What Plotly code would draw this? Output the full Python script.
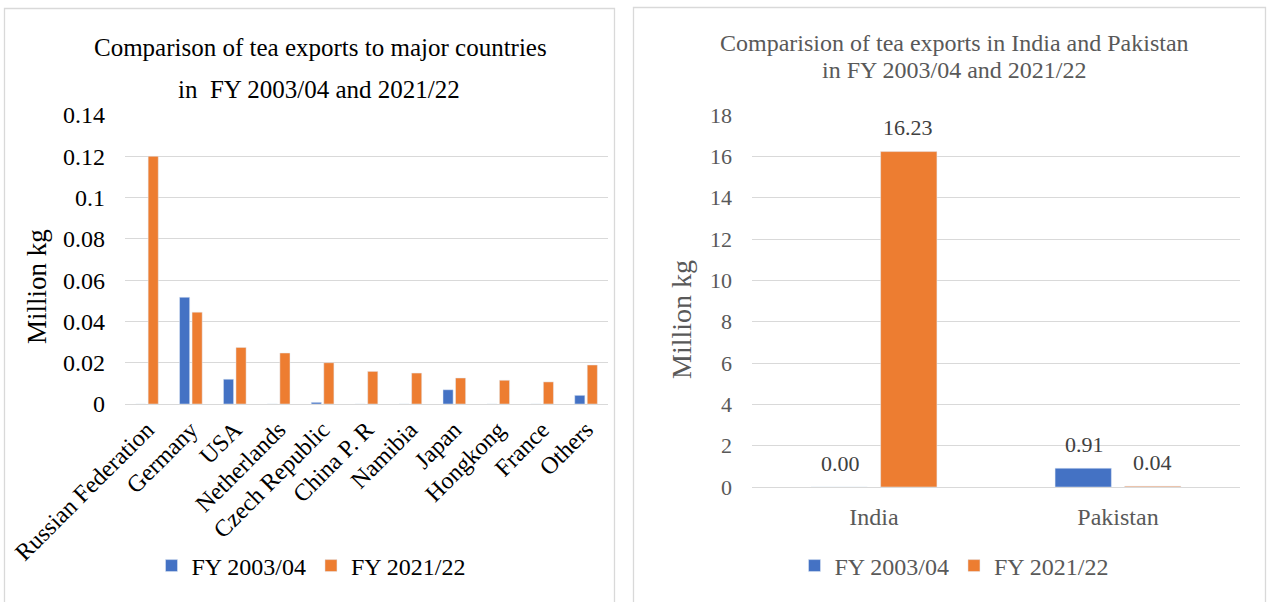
import plotly.graph_objects as go

# ---------- data ----------
countries = ["Russian Federation", "Germany", "USA", "Netherlands", "Czech Republic",
             "China P. R", "Namibia", "Japan", "Hongkong", "France", "Others"]
exports_2003 = [0, 0.0517, 0.012, 0, 0.0008, 0, 0, 0.0069, 0, 0, 0.0042]
exports_2021 = [0.120, 0.0445, 0.0274, 0.0247, 0.020, 0.0158, 0.015, 0.0126, 0.0115, 0.0107, 0.0189]
left_ticks = [0, 0.02, 0.04, 0.06, 0.08, 0.10, 0.12, 0.14]
left_ticktext = ["0", "0.02", "0.04", "0.06", "0.08", "0.1", "0.12", "0.14"]

neighbors = ["India", "Pakistan"]
nb_2003 = [0.00, 0.91]
nb_2021 = [16.23, 0.04]
right_ticks = [0, 2, 4, 6, 8, 10, 12, 14, 16, 18]

BLUE = "#4472C4"
ORANGE = "#ED7D31"
GRID = "#D9D9D9"
GREY = "#595959"
FONT = "Liberation Serif"
W, H = 1271, 602

fig = go.Figure()

fig.add_trace(go.Bar(x=countries, y=exports_2003, name="FY 2003/04", marker_color=BLUE,
                     xaxis="x", yaxis="y", legend="legend"))
fig.add_trace(go.Bar(x=countries, y=exports_2021, name="FY 2021/22", marker_color=ORANGE,
                     xaxis="x", yaxis="y", legend="legend"))

fig.add_trace(go.Bar(x=neighbors, y=nb_2003, name="FY 2003/04", marker_color=BLUE,
                     xaxis="x2", yaxis="y2", legend="legend2"))
fig.add_trace(go.Bar(x=neighbors, y=nb_2021, name="FY 2021/22", marker_color=ORANGE,
                     xaxis="x2", yaxis="y2", legend="legend2"))

def px(x):
    return x / W

def py(y):
    return 1 - y / H

fig.update_layout(
    width=W, height=H,
    margin=dict(l=0, r=0, t=0, b=0),
    paper_bgcolor="white", plot_bgcolor="white",
    font=dict(family=FONT, color="black"),
    barmode="group", bargap=0.43, bargroupgap=0.19,
    xaxis=dict(domain=[px(125), px(608)], anchor="y", showgrid=False, zeroline=False,
               showline=False, ticks="", tickangle=-45, ticklabelstandoff=6,
               tickfont=dict(family=FONT, size=24, color="black"), automargin=False),
    yaxis=dict(domain=[py(404), py(115)], anchor="x", range=[0, 0.14],
               tickvals=left_ticks, ticktext=left_ticktext,
               showgrid=True, gridcolor=GRID, gridwidth=1.3, zeroline=True, zerolinecolor=GRID,
               zerolinewidth=1.3, showline=False, ticks="", ticklabelstandoff=19,
               tickfont=dict(family=FONT, size=24, color="black"), automargin=False),
    xaxis2=dict(domain=[px(752), px(1240)], anchor="y2", showgrid=False, zeroline=False,
                showline=False, ticks="", ticklabelstandoff=13,
                tickfont=dict(family=FONT, size=24, color=GREY), automargin=False),
    yaxis2=dict(domain=[py(487), py(115)], anchor="x2", range=[0, 18],
                tickvals=right_ticks,
                showgrid=True, gridcolor=GRID, gridwidth=1.3, zeroline=True, zerolinecolor=GRID,
                zerolinewidth=1.3, showline=False, ticks="", ticklabelstandoff=19,
                tickfont=dict(family=FONT, size=22, color=GREY), automargin=False),
    legend=dict(orientation="h", x=px(311), y=py(566), xanchor="center", yanchor="middle",
                font=dict(family=FONT, size=24, color="black"), bgcolor="rgba(0,0,0,0)",
                itemwidth=30, traceorder="normal"),
    legend2=dict(orientation="h", x=px(954), y=py(566), xanchor="center", yanchor="middle",
                 font=dict(family=FONT, size=24, color=GREY), bgcolor="rgba(0,0,0,0)",
                 itemwidth=30, traceorder="normal"),
    showlegend=True,
)

def note(text, x, y, size, color, angle=0):
    fig.add_annotation(text=text, xref="paper", yref="paper", x=px(x), y=py(y),
                       xanchor="center", yanchor="middle", textangle=angle, showarrow=False,
                       font=dict(family=FONT, size=size, color=color))

note("Comparison of tea exports to major countries", 320.5, 47, 25, "black")
note("in\u00a0\u00a0FY 2003/04 and 2021/22", 319, 90, 25, "black")
note("Million kg", 37, 287, 27, "black", -90)
note("Comparision of tea exports in India and Pakistan", 954, 43, 24, GREY)
note("in FY 2003/04 and 2021/22", 953.5, 70, 24, GREY)
note("Million kg", 681, 320, 28, GREY, -90)

# data labels on the right chart, placed at each bar's value
for series, shift in ((nb_2003, -34), (nb_2021, 34)):
    for cat, val in zip(neighbors, series):
        fig.add_annotation(text=f"{val:.2f}", xref="x2", yref="y2", x=cat, y=val,
                           xshift=shift, yshift=24, xanchor="center", yanchor="middle",
                           showarrow=False, font=dict(family=FONT, size=22, color="#404040"))

# panel borders
fig.add_shape(type="rect", xref="paper", yref="paper", x0=px(4.5), x1=px(614.5), y0=py(610), y1=py(8.5),
              line=dict(color=GRID, width=1.3), fillcolor="rgba(0,0,0,0)", layer="below")
fig.add_shape(type="rect", xref="paper", yref="paper", x0=px(633.5), x1=px(1265.5), y0=py(610), y1=py(7.5),
              line=dict(color=GRID, width=1.3), fillcolor="rgba(0,0,0,0)", layer="below")

fig.write_html("out.html", config={"displayModeBar": False},
               post_script="document.body.style.margin='0';document.body.style.overflow='hidden';")
